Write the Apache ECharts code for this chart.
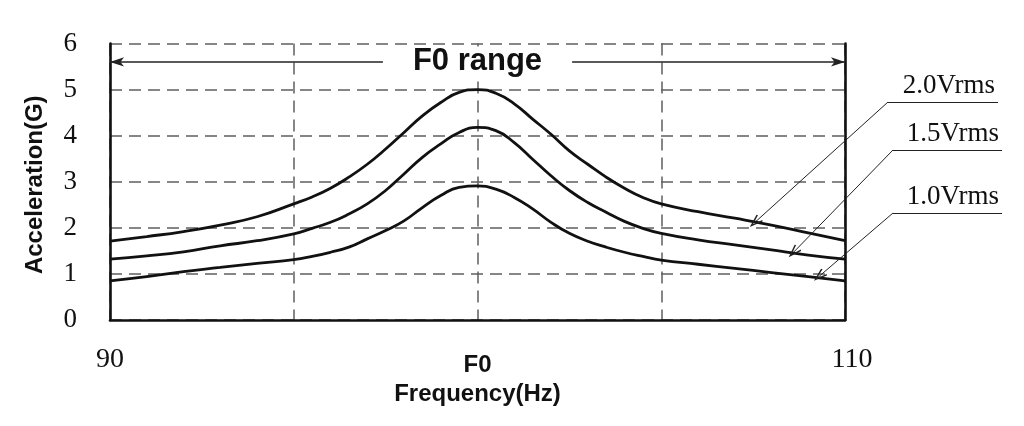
<!DOCTYPE html>
<html>
<head>
<meta charset="utf-8">
<script src="https://cdn.jsdelivr.net/npm/echarts@6/dist/echarts.min.js"></script>
<style>
  html, body { margin: 0; padding: 0; background: #fff; }
  #chart { width: 1024px; height: 426px; }
</style>
</head>
<body>
<div id="chart"></div>
<script>
// frequency samples (Hz), F0 = 100; denser round the resonance
var freq = [90, 91, 92, 93, 94, 95, 95.5, 96, 96.5, 97, 97.5, 98, 98.5, 99, 99.5, 100,
            100.5, 101, 101.5, 102, 102.5, 103, 103.5, 104, 104.5, 105, 106, 107, 108, 109, 110];
// acceleration (G) per drive level
var acc20 = [1.71, 1.81, 1.92, 2.06, 2.24, 2.52, 2.67, 2.86, 3.10, 3.38, 3.71, 4.07, 4.43, 4.72, 4.94, 5.00,
             4.92, 4.69, 4.36, 4.03, 3.67, 3.38, 3.10, 2.86, 2.66, 2.52, 2.35, 2.21, 2.06, 1.89, 1.72];
var acc15 = [1.32, 1.39, 1.48, 1.61, 1.72, 1.87, 1.99, 2.12, 2.30, 2.52, 2.81, 3.17, 3.53, 3.82, 4.07, 4.18,
             4.11, 3.85, 3.49, 3.13, 2.81, 2.55, 2.34, 2.14, 1.99, 1.88, 1.74, 1.63, 1.52, 1.41, 1.32];
var acc10 = [0.85, 0.94, 1.05, 1.14, 1.23, 1.31, 1.38, 1.47, 1.58, 1.76, 1.94, 2.15, 2.44, 2.70, 2.88, 2.91,
             2.84, 2.66, 2.41, 2.12, 1.88, 1.71, 1.58, 1.47, 1.38, 1.30, 1.21, 1.12, 1.03, 0.94, 0.85];

var seriesNames = ['2.0Vrms', '1.5Vrms', '1.0Vrms'];
var pointerHz = [107.55, 108.6, 109.3];
var pointerG = [2.12, 1.47, 0.95];

var xTickValues = [90, 100, 110];
var xTickText = ['90', 'F0', '110'];
var rangeLabel = 'F0 range';
var rangeLevel = 5.6;

// layout of the callout labels (pixels): [lineStartX, lineY, lineEndX]
var callouts = [[888, 102, 998], [893, 150, 1002], [893, 213, 1002]];

var SERIF = '"Liberation Serif", "Times New Roman", serif';
var SANS = '"Liberation Sans", Arial, sans-serif';
var chevron = 'path://M5,0 L10,13 L8.6,13.8 L5,4.2 L1.4,13.8 L0,13 Z';

function pairs(ys) {
  return freq.map(function (f, i) { return [f, ys[i]]; });
}

function calloutLines(i) {
  var c = callouts[i];
  return {
    silent: true,
    animation: false,
    lineStyle: { color: '#222', width: 1, type: 'solid' },
    data: [
      [
        { coord: [pointerHz[i], pointerG[i]], symbol: chevron, symbolSize: [9, 14] },
        { x: c[0], y: c[1], symbol: 'none' }
      ],
      [
        { x: c[0], y: c[1], symbol: 'none',
          label: {
            show: true, position: 'insideEndTop', distance: 3,
            formatter: seriesNames[i],
            color: '#111', fontFamily: SERIF, fontSize: 27
          } },
        { x: c[2], y: c[1], symbol: 'none' }
      ]
    ]
  };
}

var series = [acc20, acc15, acc10].map(function (ys, i) {
  return {
    name: seriesNames[i],
    type: 'line',
    data: pairs(ys),
    smooth: 0.5,
    symbol: 'none',
    clip: false,
    lineStyle: { color: '#111', width: 2.8 },
    itemStyle: { color: '#111' },
    markLine: calloutLines(i),
    z: 3
  };
});

// F0 range double arrow, carried by a helper series
series.push({
  type: 'line',
  data: [],
  markLine: {
    silent: true,
    animation: false,
    symbol: ['arrow', 'arrow'],
    symbolSize: [7, 14],
    lineStyle: { color: '#222', width: 1.5, type: 'solid' },
    label: {
      show: true, position: 'insideMiddle',
      formatter: rangeLabel,
      color: '#111', fontFamily: SANS, fontWeight: 'bold', fontSize: 31,
      backgroundColor: '#fff', padding: [0, 30]
    },
    data: [[{ coord: [90, rangeLevel] }, { coord: [110, rangeLevel] }]]
  }
});

var chart = echarts.init(document.getElementById('chart'), null, { renderer: 'canvas' });

var gridDash = { color: '#5f5f5f', width: 1.5, type: [12, 7] };

chart.setOption({
  animation: false,
  backgroundColor: '#fff',
  grid: { left: 110, right: 179, top: 43.5, bottom: 106, containLabel: false, outerBoundsMode: 'none' },
  xAxis: {
    type: 'value',
    min: 90, max: 110, interval: 5,
    name: 'Frequency(Hz)',
    nameLocation: 'middle',
    nameGap: 60,
    nameTextStyle: { color: '#111', fontFamily: SANS, fontWeight: 'bold', fontSize: 24 },
    axisLine: { show: true, onZero: false, lineStyle: { color: '#111', width: 2.6 } },
    axisTick: { show: false },
    splitLine: { show: true, lineStyle: gridDash },
    axisLabel: {
      margin: 26,
      showMinLabel: true, showMaxLabel: true,
      formatter: function (v) {
        var k = xTickValues.indexOf(v);
        if (k < 0) return '';
        if (xTickText[k] === 'F0') return '{f|' + xTickText[k] + '}';
        if (k === xTickText.length - 1) return '{r|' + xTickText[k] + '}';
        return '{n|' + xTickText[k] + '}';
      },
      rich: {
        n: { color: '#111', fontFamily: SERIF, fontSize: 28 },
        r: { color: '#111', fontFamily: SERIF, fontSize: 28, padding: [0, 0, 0, 14] },
        f: { color: '#111', fontFamily: SANS, fontWeight: 'bold', fontSize: 24, padding: [7, 0, 0, 0] }
      }
    }
  },
  yAxis: [{
    type: 'value',
    min: 0, max: 6, interval: 1,
    name: 'Acceleration(G)',
    nameLocation: 'middle',
    nameGap: 63,
    nameTextStyle: { color: '#111', fontFamily: SANS, fontWeight: 'bold', fontSize: 24, padding: [0, 6, 0, 0] },
    axisLine: { show: true, lineStyle: { color: '#111', width: 2.6 } },
    axisTick: { show: false },
    splitLine: { show: true, lineStyle: gridDash },
    axisLabel: { margin: 33, color: '#111', fontFamily: SERIF, fontSize: 27 }
  }, {
    type: 'value',
    position: 'right',
    min: 0, max: 6, interval: 1,
    axisLine: { show: true, lineStyle: { color: '#111', width: 2.6 } },
    axisTick: { show: false },
    axisLabel: { show: false },
    splitLine: { show: false }
  }],
  series: series
});
</script>
</body>
</html>
